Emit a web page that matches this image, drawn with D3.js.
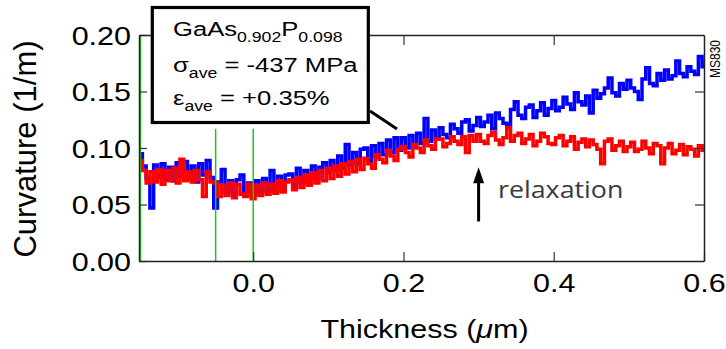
<!DOCTYPE html>
<html>
<head>
<meta charset="utf-8">
<script src="https://cdn.jsdelivr.net/npm/d3@7"></script>
<style>
  body { margin: 0; background: #fff; }
  svg { display: block; }
</style>
</head>
<body>
<script>
// curvature traces, sampled every 0.005 um from -0.15 to 0.60
var thickness = d3.range(0, 151).map(function(i) { return +(-0.15 + i * 0.005).toFixed(3); });

var blueCurv = [
  0.095, 0.084, 0.073, 0.047, 0.085, 0.074, 0.086, 0.072, 0.083, 0.071,
  0.087, 0.075, 0.088, 0.073, 0.084, 0.070, 0.086, 0.076, 0.089, 0.074,
  0.047, 0.070, 0.081, 0.061, 0.071, 0.059, 0.072, 0.076, 0.058, 0.069,
  0.059, 0.071, 0.061, 0.073, 0.062, 0.080, 0.063, 0.075, 0.062, 0.076,
  0.077, 0.066, 0.082, 0.069, 0.080, 0.070, 0.084, 0.073, 0.083, 0.087,
  0.078, 0.089, 0.080, 0.093, 0.082, 0.103, 0.085, 0.096, 0.086, 0.099,
  0.100, 0.089, 0.102, 0.092, 0.104, 0.094, 0.107, 0.096, 0.109, 0.098,
  0.109, 0.100, 0.111, 0.101, 0.113, 0.104, 0.126, 0.106, 0.116, 0.108,
  0.118, 0.112, 0.109, 0.121, 0.117, 0.113, 0.123, 0.125, 0.115, 0.120,
  0.127, 0.119, 0.123, 0.129, 0.117, 0.131, 0.126, 0.122, 0.121, 0.134,
  0.141, 0.129, 0.126, 0.136, 0.138, 0.127, 0.133, 0.140, 0.129, 0.135,
  0.142, 0.133, 0.136, 0.145, 0.139, 0.134, 0.149, 0.141, 0.138, 0.146,
  0.131, 0.151, 0.144, 0.148, 0.153, 0.162, 0.149, 0.146, 0.157, 0.152,
  0.160, 0.153, 0.150, 0.143, 0.161, 0.171, 0.157, 0.155, 0.166, 0.160,
  0.169, 0.161, 0.164, 0.177, 0.166, 0.163, 0.172, 0.168, 0.165, 0.181, 0.172
];

var redCurv = [
  0.089, 0.080, 0.069, 0.079, 0.070, 0.081, 0.068, 0.080, 0.071, 0.082,
  0.069, 0.090, 0.071, 0.079, 0.070, 0.080, 0.072, 0.057, 0.079, 0.070,
  0.069, 0.057, 0.067, 0.058, 0.069, 0.056, 0.068, 0.059, 0.057, 0.068,
  0.055, 0.067, 0.058, 0.069, 0.059, 0.068, 0.060, 0.071, 0.061, 0.070,
  0.072, 0.063, 0.074, 0.065, 0.076, 0.067, 0.078, 0.069, 0.080, 0.071,
  0.082, 0.073, 0.084, 0.075, 0.086, 0.077, 0.088, 0.079, 0.090, 0.081,
  0.091, 0.086, 0.082, 0.094, 0.090, 0.087, 0.098, 0.093, 0.089, 0.099,
  0.101, 0.096, 0.092, 0.103, 0.100, 0.096, 0.107, 0.102, 0.099, 0.108,
  0.108, 0.101, 0.104, 0.110, 0.106, 0.103, 0.110, 0.096, 0.111, 0.106,
  0.112, 0.106, 0.104, 0.111, 0.114, 0.107, 0.103, 0.109, 0.118, 0.106,
  0.111, 0.113, 0.104, 0.108, 0.112, 0.102, 0.106, 0.113, 0.110, 0.104,
  0.103, 0.109, 0.111, 0.102, 0.106, 0.110, 0.099, 0.105, 0.108, 0.101,
  0.107, 0.103, 0.099, 0.086, 0.106, 0.108, 0.098, 0.102, 0.106, 0.097,
  0.101, 0.105, 0.097, 0.099, 0.106, 0.100, 0.095, 0.104, 0.102, 0.086,
  0.100, 0.104, 0.095, 0.098, 0.103, 0.094, 0.101, 0.099, 0.093, 0.102, 0.098
];

var yTicks = [0, 0.05, 0.10, 0.15, 0.20];
var xTicks = [0, 0.2, 0.4, 0.6];
var markers = [{x: -0.15, top: 0.20}, {x: -0.05, top: 0.117}, {x: 0, top: 0.117}];
var arrowAt = {x: 0.3, from: 0.035, to: 0.083};

var W = 726, H = 349;
var margin = {top: 35, right: 22, bottom: 88, left: 139};
var width = W - margin.left - margin.right;
var height = H - margin.top - margin.bottom;
var stretch = 1.22;   // the reference text is drawn wide
var font = "'Liberation Sans', Arial, Helvetica, sans-serif";

var svg = d3.select("body").append("svg")
    .attr("width", W)
    .attr("height", H);

var g = svg.append("g")
    .attr("transform", "translate(" + margin.left + "," + margin.top + ")");

var xScale = d3.scaleLinear().domain([-0.152, 0.6]).range([0, width]);
var yScale = d3.scaleLinear().domain([0, 0.2]).range([height, 0]);

//Traces
var line = d3.line()
    .x(function(d) { return xScale(d[0]); })
    .y(function(d) { return yScale(d[1]); })
    .curve(d3.curveStep);

g.append("path")
    .datum(d3.zip(thickness, blueCurv))
    .attr("d", line)
    .attr("fill", "none")
    .attr("stroke", "#0000ff")
    .attr("stroke-width", 3.5);

g.append("path")
    .datum(d3.zip(thickness, redCurv))
    .attr("d", line)
    .attr("fill", "none")
    .attr("stroke", "#ff0000")
    .attr("stroke-width", 3.5);

//Green markers
g.selectAll(".marker")
    .data(markers)
    .enter()
    .append("line")
    .attr("class", "marker")
    .attr("x1", function(d) { return xScale(d.x); })
    .attr("x2", function(d) { return xScale(d.x); })
    .attr("y1", yScale(0))
    .attr("y2", function(d) { return yScale(d.top); })
    .attr("stroke", "#22c41f")
    .attr("stroke-width", 1.5);

//Axes, ticks pointing inward
function styleAxis(sel) {
  sel.select(".domain").attr("stroke", "#222").attr("stroke-width", 1.5);
  sel.selectAll(".tick line").attr("stroke", "#333").attr("stroke-width", 1.2);
  sel.selectAll("text").style("font-family", font).style("font-size", "25px").attr("fill", "#000");
}

var yAxis = g.append("g")
    .call(d3.axisLeft(yScale).tickValues(yTicks).tickFormat(d3.format(".2f")).tickSizeInner(-8).tickSizeOuter(0))
    .call(styleAxis);
yAxis.selectAll("text")
    .attr("x", 0)
    .attr("dy", "0.36em")
    .attr("transform", "translate(-8,0) scale(" + stretch + ",1)");

var xAxis = g.append("g")
    .attr("transform", "translate(0," + height + ")")
    .call(d3.axisBottom(xScale).tickValues(xTicks).tickFormat(d3.format(".1f")).tickSizeInner(-9).tickSizeOuter(0))
    .call(styleAxis);
xAxis.selectAll("text")
    .attr("y", 0)
    .attr("dy", 0)
    .attr("transform", "translate(0,31) scale(" + stretch + ",1)");

g.append("g")
    .attr("transform", "translate(" + width + ",0)")
    .call(d3.axisRight(yScale).tickValues([0.05, 0.10, 0.15]).tickFormat("").tickSizeInner(-9).tickSizeOuter(0))
    .call(styleAxis);

g.append("g")
    .call(d3.axisTop(xScale).tickValues([0.2, 0.4]).tickFormat("").tickSizeInner(-10).tickSizeOuter(0))
    .call(styleAxis);

//Axis titles
svg.append("text")
    .attr("transform", "translate(36," + (margin.top + height / 2 + 1) + ") rotate(-90)")
    .attr("text-anchor", "middle")
    .style("font-family", font)
    .style("font-size", "31px")
    .text("Curvature (1/m)");

var xt = svg.append("text")
    .attr("transform", "translate(" + (margin.left + width / 2 + 3) + ",338) scale(" + stretch + ",1)")
    .attr("text-anchor", "middle")
    .style("font-family", font)
    .style("font-size", "25px");
xt.append("tspan").text("Thickness (");
xt.append("tspan").style("font-style", "italic").text("\u03bc");
xt.append("tspan").text("m)");

//MS830 tag
svg.append("text")
    .attr("transform", "translate(720,59) scale(" + stretch + ",1) rotate(-90)")
    .attr("text-anchor", "middle")
    .style("font-family", font)
    .style("font-size", "12px")
    .text("MS830");

//Relaxation arrow
var ax = margin.left + xScale(arrowAt.x);
var yTip = margin.top + yScale(arrowAt.to);
svg.append("line")
    .attr("x1", ax).attr("x2", ax)
    .attr("y1", margin.top + yScale(arrowAt.from))
    .attr("y2", yTip + 12)
    .attr("stroke", "#000")
    .attr("stroke-width", 3);
svg.append("path")
    .attr("d", "M" + ax + "," + yTip + " L" + (ax - 5.5) + "," + (yTip + 16) + " L" + (ax + 5.5) + "," + (yTip + 16) + " Z")
    .attr("fill", "#000");

svg.append("text")
    .attr("transform", "translate(498,198) scale(1.165,1)")
    .style("font-family", "'Open Sans', sans-serif")
    .style("font-size", "23px")
    .attr("fill", "#3b3b3b")
    .text("relaxation");

//Info box and its pointer
svg.append("line")
    .attr("x1", 370).attr("y1", 111)
    .attr("x2", 397).attr("y2", 129)
    .attr("stroke", "#000")
    .attr("stroke-width", 3);

svg.append("rect")
    .attr("x", 152.3).attr("y", 7.5)
    .attr("width", 216).attr("height", 115)
    .attr("fill", "#fff")
    .attr("stroke", "#000")
    .attr("stroke-width", 3.2);

var boxLines = [
  [["GaAs", 0], ["0.902", 1], ["P", 0], ["0.098", 1]],
  [["\u03c3", 0], ["ave", 1], [" = -437 MPa", 0]],
  [["\u03b5", 0], ["ave", 1], [" = +0.35%", 0]]
];
var boxBase = [36, 72, 105];

boxLines.forEach(function(parts, i) {
  var t = svg.append("text")
      .attr("transform", "translate(173," + boxBase[i] + ") scale(" + stretch + ",1)")
      .style("font-family", font)
      .style("font-size", "21px");
  var shifted = 0;
  parts.forEach(function(p) {
    var dy = p[1] ? 5.5 - shifted : -shifted;
    shifted = p[1] ? 5.5 : 0;
    t.append("tspan")
        .attr("dy", dy)
        .style("font-size", p[1] ? "14.5px" : "21px")
        .text(p[0]);
  });
});
</script>
</body>
</html>
